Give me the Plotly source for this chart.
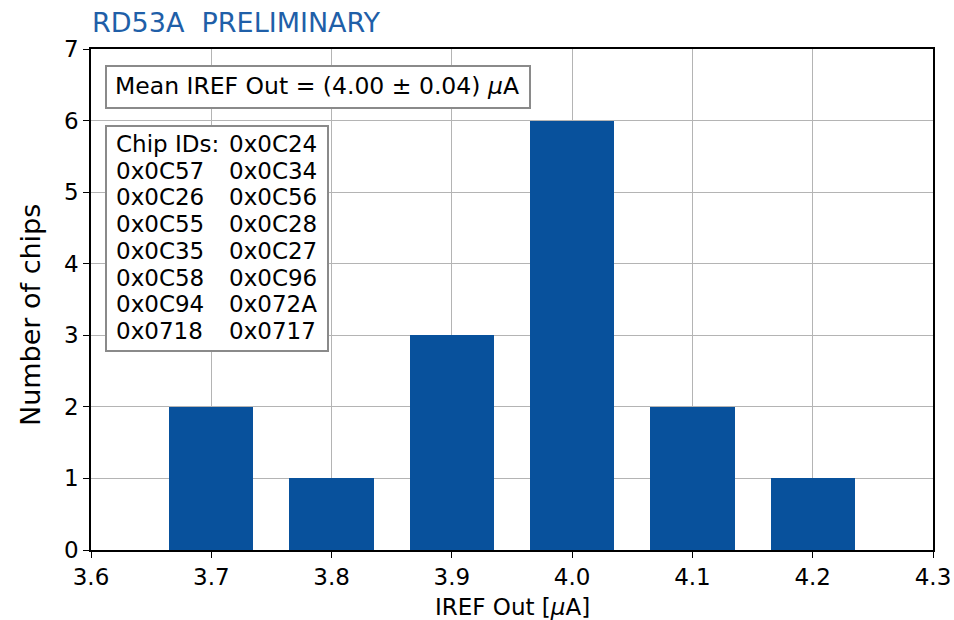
import plotly.graph_objects as go

# Histogram of IREF Out per chip
bin_centers = [3.7, 3.8, 3.9, 4.0, 4.1, 4.2]
chip_counts = [2, 1, 3, 6, 2, 1]
bin_width = 0.07

mean_iref = 4.00
mean_err = 0.04

chip_ids = ["0x0C24", "0x0C57", "0x0C34", "0x0C26", "0x0C56", "0x0C55", "0x0C28",
            "0x0C35", "0x0C27", "0x0C58", "0x0C96", "0x0C94", "0x072A", "0x0718", "0x0717"]

x_ticks = [3.6, 3.7, 3.8, 3.9, 4.0, 4.1, 4.2, 4.3]
y_ticks = [0, 1, 2, 3, 4, 5, 6, 7]

FONT = "DejaVu Sans"
FS = 23
W, H = 954, 620
L, R, T, B = 91, 21, 49, 70
pw, ph = W - L - R, H - T - B


def px_x(x):
    return (x - L) / pw


def px_y(y):
    return (H - B - y) / ph


fig = go.Figure()
fig.add_trace(go.Bar(
    x=bin_centers, y=chip_counts, width=bin_width,
    marker=dict(color="#08519c", line=dict(width=0)),
    showlegend=False,
))

axis_common = dict(
    showline=True, linecolor="black", linewidth=1.6, mirror=True,
    ticks="outside", ticklen=6, tickwidth=1.4, tickcolor="black",
    showgrid=True, gridcolor="#b4b4b4", gridwidth=1.4,
    zeroline=False, layer="above traces", automargin=False,
    tickfont=dict(family=FONT, size=FS, color="black"),
)

fig.update_xaxes(range=[3.6, 4.3], tickvals=x_ticks,
                 ticktext=[f"{v:.1f}" for v in x_ticks], **axis_common)
fig.update_yaxes(range=[0, 7], tickvals=y_ticks, **axis_common)

# Axis titles
fig.add_annotation(xref="paper", yref="paper", x=px_x(512), y=px_y(607),
                   xanchor="center", yanchor="middle", showarrow=False,
                   text="IREF Out [<i>μ</i>A]", font=dict(family=FONT, size=FS, color="black"))
fig.add_annotation(xref="paper", yref="paper", x=px_x(30), y=px_y(315),
                   xanchor="center", yanchor="middle", showarrow=False, textangle=-90,
                   text="Number of chips", font=dict(family=FONT, size=27, color="black"))

# Mean value box
fig.add_shape(type="rect", xref="paper", yref="paper",
              x0=px_x(106), x1=px_x(530), y0=px_y(108), y1=px_y(66),
              line=dict(color="#8a8a8a", width=2), fillcolor="white", layer="above")
fig.add_annotation(
    xref="paper", yref="paper", x=px_x(113), y=px_y(86),
    xanchor="left", yanchor="middle", showarrow=False, align="left",
    text=f"Mean IREF Out = ({mean_iref:.2f} ± {mean_err:.2f}) <i>μ</i>A",
    font=dict(family=FONT, size=23.5, color="black"),
)

# Chip ID list box
fig.add_shape(type="rect", xref="paper", yref="paper",
              x0=px_x(106), x1=px_x(328), y0=px_y(351), y1=px_y(126),
              line=dict(color="#8a8a8a", width=2), fillcolor="white", layer="above")

left_col = ["Chip IDs:"] + chip_ids[1::2]
right_col = chip_ids[0:1] + chip_ids[2::2]
row_h = 26.7
for i, (a, b) in enumerate(zip(left_col, right_col)):
    yc = 144 + i * row_h
    for col_x, txt in ((114, a), (227, b)):
        fig.add_annotation(
            xref="paper", yref="paper", x=px_x(col_x), y=px_y(yc),
            xanchor="left", yanchor="middle", showarrow=False, align="left",
            text=txt, font=dict(family=FONT, size=FS, color="black"),
        )

fig.update_layout(
    width=W, height=H,
    margin=dict(l=L, r=R, t=T, b=B, autoexpand=False),
    paper_bgcolor="white", plot_bgcolor="white",
    title=dict(text="RD53A  PRELIMINARY", x=92 / W, xref="container",
               xanchor="left", y=1 - 23 / H, yanchor="middle", yref="container",
               font=dict(family=FONT, size=27, color="#1f5fa8")),
    bargap=0,
)

fig.write_html("out.html")
